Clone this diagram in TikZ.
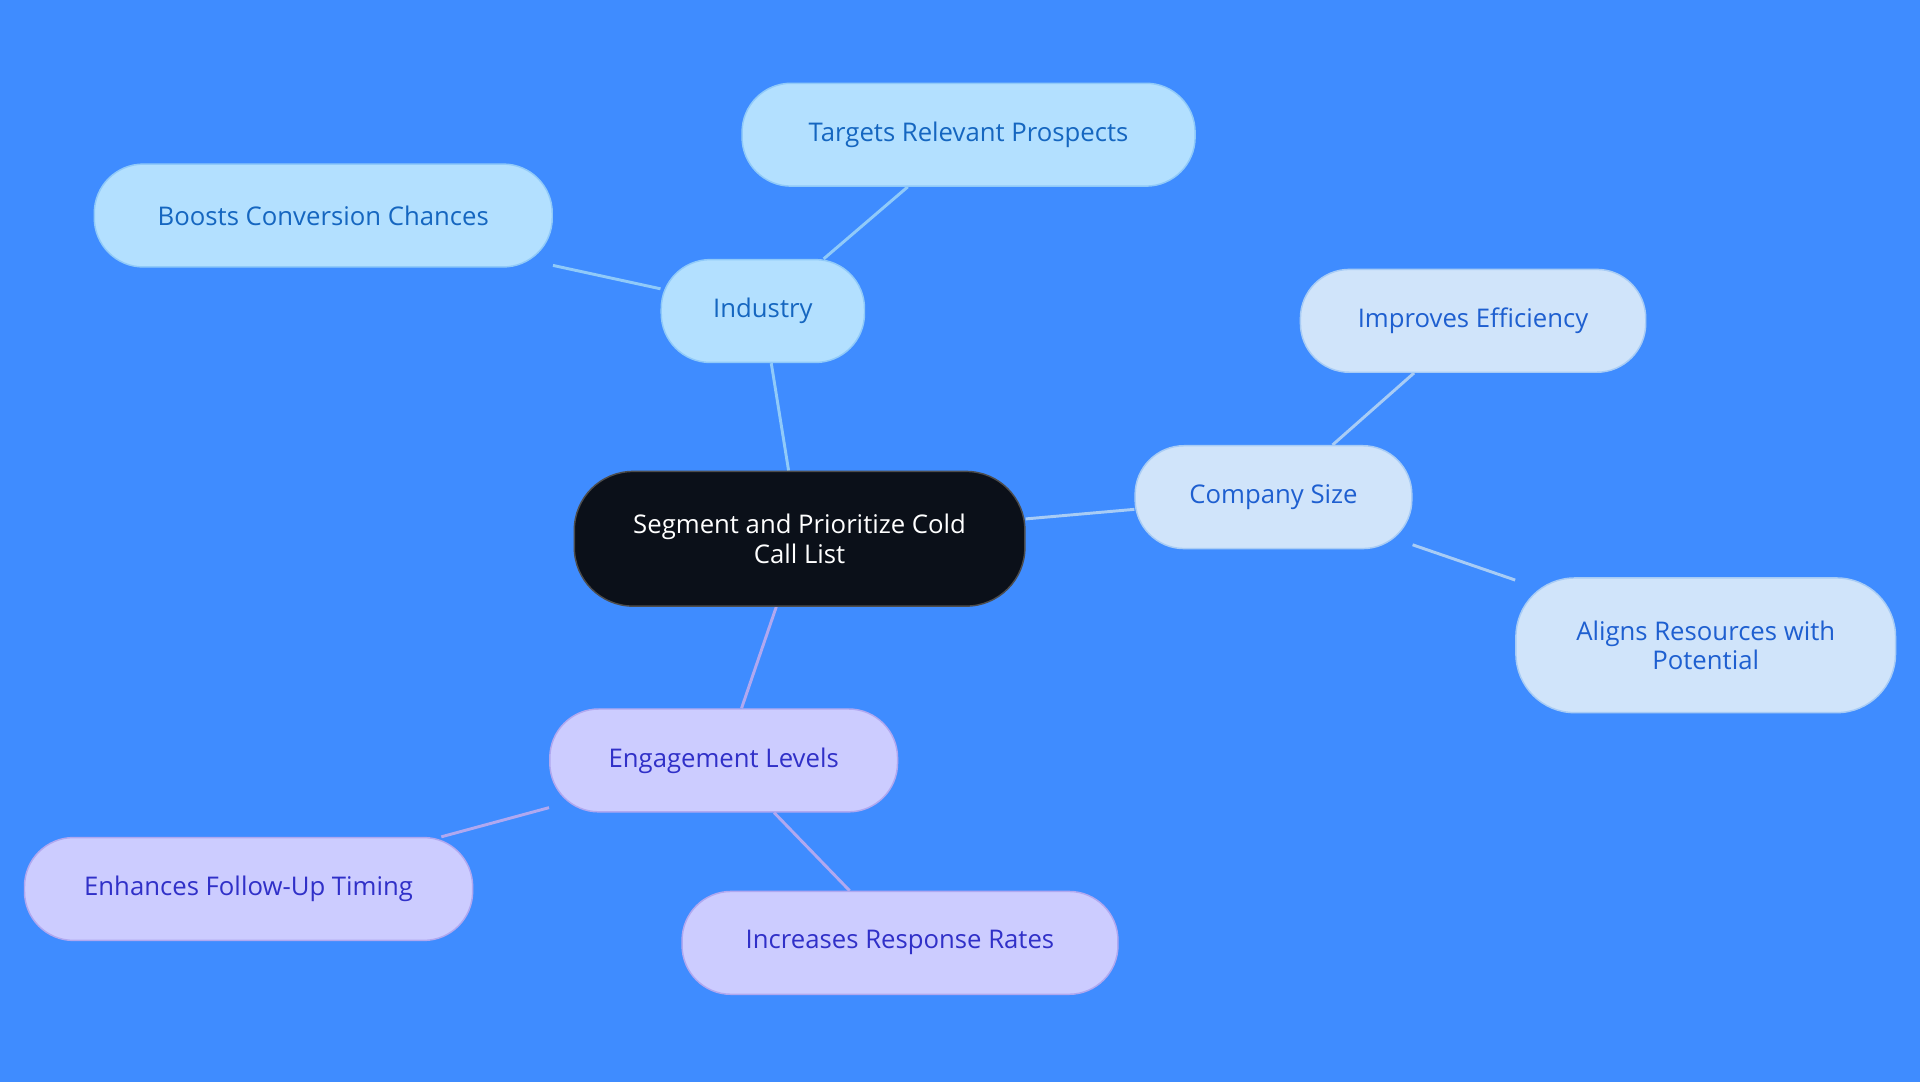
\documentclass[tikz,border=0pt]{standalone}
\usepackage{fontspec}
\setmainfont{Open Sans}
\usetikzlibrary{backgrounds}
\definecolor{bg}{HTML}{3F8CFF}
\definecolor{cfill}{HTML}{0B1019}
\definecolor{afill}{HTML}{B3E0FF}\definecolor{atext}{HTML}{1566C0}\definecolor{aline}{HTML}{90CAF9}
\definecolor{bfill}{HTML}{D0E4FA}\definecolor{btext}{HTML}{1E5FD0}\definecolor{bline}{HTML}{A8CCF5}
\definecolor{gfill}{HTML}{CCCCFF}\definecolor{gtext}{HTML}{3030C8}\definecolor{gline}{HTML}{B0A8F0}
\begin{document}
\begin{tikzpicture}[x=0.5pt,y=-0.5pt,
 box/.style={rounded corners=20pt,minimum height=42pt,font=\fontsize{10.5}{12}\selectfont,align=center,line width=0.6pt},
 A/.style={box,fill=afill,draw=aline,text=atext},
 B/.style={box,fill=bfill,draw=bline,text=btext},
 G/.style={box,fill=gfill,draw=gline,text=gtext},
 edge/.style={line width=1.2pt}]
\useasboundingbox (0,0) rectangle (1568,884);
\node[box,fill=cfill,draw=black!70,text=white,minimum width=184pt,minimum height=55pt,rounded corners=24pt] (c) at (653,440) {Segment and Prioritize Cold\\Call List};
\node[A,minimum width=83pt] (ind) at (623,254) {Industry};
\node[A,minimum width=185pt] (tar) at (791,110) {Targets Relevant Prospects};
\node[A,minimum width=187pt] (boo) at (264,176) {Boosts Conversion Chances};
\node[B,minimum width=113pt] (cs) at (1040,406) {Company Size};
\node[B,minimum width=141pt] (imp) at (1203,262) {Improves Efficiency};
\node[B,minimum width=155pt,minimum height=55pt,rounded corners=24pt] (ali) at (1393,527) {Aligns Resources with\\Potential};
\node[G,minimum width=142pt] (eng) at (591,621) {Engagement Levels};
\node[G,minimum width=183pt] (enh) at (203,726) {Enhances Follow-Up Timing};
\node[G,minimum width=178pt] (inc) at (735,770) {Increases Response Rates};
\begin{scope}[on background layer]
\fill[bg] (0,0) rectangle (1568,884);
\draw[edge,aline] (c) -- (ind) (ind) -- (tar) (ind) -- (boo);
\draw[edge,bline] (c) -- (cs) (cs) -- (imp) (cs) -- (ali);
\draw[edge,gline] (c) -- (eng) (eng) -- (enh) (eng) -- (inc);
\end{scope}
\end{tikzpicture}
\end{document}
